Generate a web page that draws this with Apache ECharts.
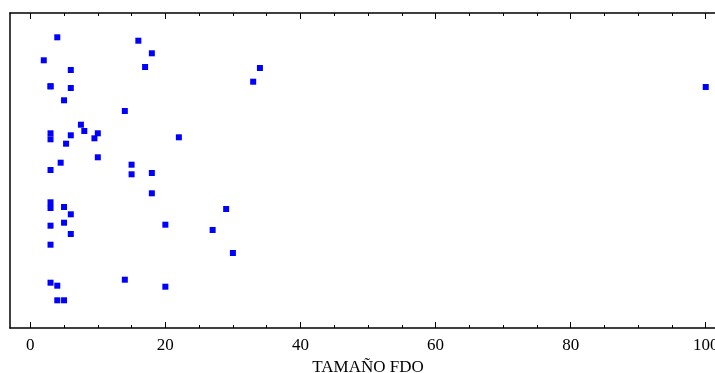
<!DOCTYPE html>
<html>
<head>
<meta charset="utf-8">
<script src="https://cdn.jsdelivr.net/npm/echarts@6/dist/echarts.min.js"></script>
<style>html,body{margin:0;padding:0;background:#fff}#c{width:715px;height:373px}</style>
</head>
<body>
<div id="c"></div>
<script>
const xTickLabels = [0, 20, 40, 60, 80, 100];
const xMinorTicks = [0,5,10,15,20,25,30,35,40,45,50,55,60,65,70,75,80,85,90,95,100];
const xValues = [4,16,18,2,6,17,34,3,3,6,33,100,5,14,7.5,8,3,6,10,3,9.5,22,5.3,10,4.5,15,3,15,18,18,3,3,5,6,29,5,3,20,27,6,3,30,14,3,4,20,4,5];
const yValues = [290.7,287.3,274.7,267.7,258,261,260,241.7,241.7,240,246.3,241,227.7,217,203.3,197,194.7,192.7,194.7,188.7,189.7,190.7,184.3,170.7,165.3,163.3,158,153.7,155,134.7,125.7,120,121,113.7,119,105.3,102.3,103.3,98,94,83.3,75,48.3,45.3,42.3,41.3,27.7,27.7];
const xTitle = 'TAMAÑO FDO';

const pts = xValues.map((x, i) => [x, yValues[i]]);
const font = 'Liberation Serif';
const chart = echarts.init(document.getElementById('c'));
const base = {type: 'value', min: -3, max: 103, splitLine: {show: false}};
chart.setOption({
  animation: false,
  grid: {left: 10, top: 13, right: -11, bottom: 45, show: false, containLabel: false, outerBoundsMode: 'none'},
  xAxis: [
    Object.assign({}, base, {
      position: 'bottom',
      axisLine: {show: true, onZero: false, lineStyle: {color: '#000', width: 1.5}},
      axisTick: {show: true, inside: true, length: 3, customValues: xMinorTicks, lineStyle: {color: '#000'}},
      axisLabel: {show: true, customValues: xTickLabels, color: '#000', fontFamily: font, fontSize: 17, margin: 9},
      name: xTitle, nameLocation: 'middle', nameGap: 28,
      nameTextStyle: {color: '#000', fontFamily: font, fontSize: 17}
    }),
    Object.assign({}, base, {
      position: 'bottom',
      axisLine: {show: false},
      axisTick: {show: true, inside: true, length: 6, customValues: xTickLabels, lineStyle: {color: '#000'}},
      axisLabel: {show: false}
    }),
    Object.assign({}, base, {
      position: 'top',
      axisLine: {show: true, onZero: false, lineStyle: {color: '#000', width: 1.5}},
      axisTick: {show: true, inside: true, length: 3, customValues: xMinorTicks, lineStyle: {color: '#000'}},
      axisLabel: {show: false}
    }),
    Object.assign({}, base, {
      position: 'top',
      axisLine: {show: false},
      axisTick: {show: true, inside: true, length: 6, customValues: xTickLabels, lineStyle: {color: '#000'}},
      axisLabel: {show: false}
    })
  ],
  yAxis: {
    type: 'value', min: 0, max: 315,
    axisLine: {show: true, onZero: false, lineStyle: {color: '#000', width: 1.5}},
    axisTick: {show: false}, axisLabel: {show: false}, splitLine: {show: false}
  },
  series: [{
    type: 'scatter', xAxisIndex: 0, yAxisIndex: 0,
    symbol: 'rect', symbolSize: 6,
    itemStyle: {color: '#0000ff', opacity: 1},
    data: pts
  }]
});
</script>
</body>
</html>
